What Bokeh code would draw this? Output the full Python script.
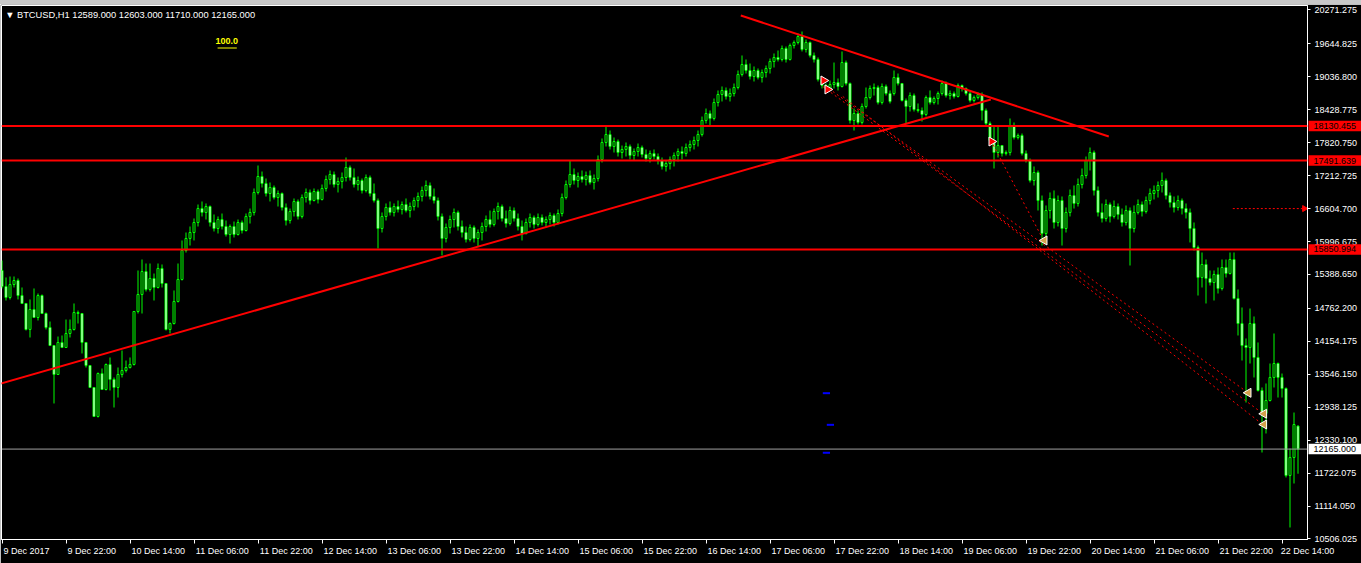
import math
from bokeh.plotting import figure
from bokeh.models import (Range1d, FixedTicker, PrintfTickFormatter, Span, Label, ColumnDataSource, Div,
                          GridBox)
from bokeh.core.properties import value
from bokeh.embed import file_html
from bokeh.resources import INLINE

# ---------------- data (BTCUSD, H1, bar index 0 = 9 Dec 2017 06:00) ----------------
op = [15462,15166,14963,15203,15277,15000,14853,14373,14742,14594,15000,14668,14410,14077,13542,14133,14040,14299,14373,14686,
      14668,14133,13708,13302,12767,13560,13265,13727,13450,13302,13542,13616,13671,13727,14705,15019,15443,15111,15314,15148,
      15499,15222,14373,14483,14890,15296,
      15831,16053,16163,16348,16606,16533,16643,16348,16237,16403,16274,16126,16274,16126,16348,16200,16459,16533,16902,17197,
      17068,16883,16994,16809,16883,16625,16385,16551,16736,16459,16809,16902,16754,16920,16773,16976,17142,17234,17049,17105,
      17179,17363,17179,17049,17123,16939,17179,16883,16754,16237,16459,16625,16533,16643,16588,16680,16569,16643,16754,16828,
      16939,17031,16828,16754,16459,16053,16256,16403,16533,16274,16163,16034,16256,16053,16163,16274,16403,16311,16551,16643,
      16422,16329,16569,16422,16274,16145,16348,16440,16311,16440,16348,16403,16477,16348,16514,16809,17049,17234,17123,17197,
      17142,17215,17086,17160,17511,17825,17972,17751,17843,17640,17696,17751,17585,17658,17732,17603,17529,17622,17566,17492,
      17382,17437,17511,17585,17658,17622,17732,17788,17862,17972,18231,18360,18268,18563,18711,18785,18674,18729,18840,19080,
      19264,19154,19043,19154,19025,19117,19191,19320,19394,
      19357,19560,19357,19615,19671,19781,19542,19671,19431,19357,18988,18877,18822,18895,18932,18859,19301,18914,18231,18360,
      18194,18489,18655,18822,18840,18563,18859,18729,18729,19025,18914,18600,18489,18692,18434,18415,18342,18655,18563,18637,
      18729,18914,18692,18729,18674,18877,18822,18729,18600,18655,18711,18415,18175,17862,17640,17769,17622,17640,18138,17917,
      17954,17622,17492,
      17123,17271,16754,16145,16569,16791,16348,16754,16237,16533,16846,16699,17049,17215,17492,17640,16939,16533,16422,16680,
      16459,16643,16496,16348,16569,16237,16533,16680,16551,16754,16883,16939,17031,17123,16846,16717,16625,16754,16606,16533,
      16237,15886,15333,15573,15314,15240,15388,15130,15517,15406,15665,14945,14483,14077,14040,14483,13856,13247,12822,13062,
      13487,13745,13487,13284,11677,12010,12589]
hi = [15646,15333,15351,15351,15314,15148,14853,14927,15130,15037,15019,14686,14520,14077,14243,14262,14557,14557,14853,14723,
      14668,14133,13708,13302,13579,13653,13745,13856,13487,13671,13985,13800,13856,14705,15462,15665,15591,15591,15406,15591,
      15573,15222,14502,15093,15591,16016,
      16163,16274,16422,16680,16736,16699,16662,16496,16459,16514,16385,16311,16366,16403,16385,16514,16606,16976,17400,17289,
      17160,17086,17031,16939,16902,16699,16606,16791,16773,16865,16976,16957,16976,16957,17049,17215,17308,17289,17179,17271,
      17548,17400,17345,17197,17160,17234,17215,17068,16791,16533,16699,16736,16699,16754,16736,16791,16717,16809,16902,17012,
      17123,17086,16976,16809,16514,16329,16477,16606,16569,16385,16274,16311,16293,16219,16348,16477,16569,16606,16717,16680,
      16569,16643,16625,16514,16385,16422,16514,16477,16514,16496,16459,16533,16514,16588,16883,17123,17492,17345,17271,17308,
      17289,17308,17234,17585,17899,18120,18046,17917,17880,17769,17825,17788,17714,17806,17769,17696,17677,17696,17622,17548,
      17492,17566,17640,17714,17751,17806,17862,17935,18046,18304,18452,18415,18637,18785,18859,18840,18822,18914,19154,19431,
      19357,19283,19228,19191,19172,19246,19375,19468,19523,
      19615,19597,19652,19708,19837,19874,19726,19689,19486,19394,19043,18914,18969,19301,19006,19505,19338,18932,18452,18415,
      18545,18840,18877,18914,18877,18914,18895,18785,19154,19098,18914,18637,18748,18729,18545,18471,18692,18785,18674,18766,
      18969,18951,18785,18766,18914,18895,18840,18766,18692,18748,18748,18452,18212,18138,18138,17769,17677,18268,18194,17991,
      17991,17677,17529,
      17382,17308,16846,16662,16902,16939,16846,16828,16625,16957,17031,17160,17345,17566,17732,17677,17013,16699,16773,16717,
      16754,16699,16606,16662,16625,16662,16773,16736,16828,16976,17031,17105,17271,17160,16902,16828,16846,16791,16699,16606,
      16348,15923,15794,15665,15462,15462,15517,15665,15665,15794,15794,15111,14779,14207,14760,14613,14133,13302,13376,13745,
      14299,13763,13560,13302,12176,12840,12603]
lo = [15130,14908,14927,15148,14927,14853,14354,14225,14594,14539,14668,14373,14077,13007,13542,14040,14040,14225,14354,14483,
      13930,13671,13302,12767,12748,13265,13247,13247,12933,13117,13487,13579,13653,13708,14668,14668,15074,15074,14908,15130,
      15148,14354,14299,14465,14871,15277,
      15794,15923,16016,16274,16459,16403,16274,16182,16145,16219,16089,15960,16071,16108,16145,16182,16329,16477,16865,16994,
      16828,16736,16773,16643,16569,16293,16329,16459,16403,16422,16717,16680,16736,16699,16754,16920,17049,16994,16902,16976,
      17105,17123,16994,16939,16883,16902,16828,16717,15868,16163,16385,16477,16459,16533,16496,16533,16440,16569,16625,16736,
      16828,16773,16699,16385,15739,15979,16145,16256,16200,16071,15979,15997,15979,15905,16016,16182,16256,16274,16403,16366,
      16256,16293,16366,16200,16016,16126,16256,16237,16274,16293,16256,16311,16274,16311,16459,16773,16994,17049,16994,17086,
      17031,17049,16957,17105,17455,17751,17696,17640,17566,17529,17566,17511,17492,17566,17548,17474,17455,17511,17419,17326,
      17289,17326,17382,17474,17511,17566,17658,17696,17751,17935,18175,18120,18231,18489,18582,18618,18582,18674,18804,19043,
      19098,18988,18951,18988,18932,19025,19098,19209,19320,
      19320,19301,19338,19560,19634,19505,19486,19394,19301,18951,18822,18785,18785,18822,18785,18840,18877,18175,18046,18157,
      18157,18452,18618,18692,18526,18526,18692,18545,18692,18877,18582,18175,18397,18397,18378,18212,18305,18526,18526,18526,
      18692,18655,18618,18637,18655,18766,18692,18563,18563,18618,18231,18138,17825,17345,17548,17566,17585,17585,17880,17880,
      17585,17455,17086,
      17031,16569,15923,16053,16422,16237,16274,15923,16163,16459,16606,16643,16976,17160,17308,16846,16459,16348,16366,16348,
      16422,16403,16274,16293,15554,16163,16496,16459,16514,16680,16773,16809,16902,16773,16625,16533,16569,16496,16422,15979,
      15831,15000,15148,14853,15185,14908,15037,15093,15333,15388,14927,14262,13800,13025,13745,13487,13228,12102,12453,13044,
      13302,13117,13117,11641,10718,11530,11710]
cl = [15166,14963,15203,15277,15000,14853,14373,14742,14594,15000,14668,14410,14077,13542,14133,14040,14299,14373,14686,14668,
      14133,13708,13302,12767,13560,13265,13727,13450,13302,13542,13616,13671,13727,14705,15019,15443,15111,15314,15148,15499,
      15222,14373,14483,14890,15296,15831,
      16053,16163,16348,16606,16533,16643,16348,16237,16403,16274,16126,16274,16126,16348,16200,16459,16533,16902,17197,17068,
      16883,16994,16809,16883,16625,16385,16551,16736,16459,16809,16902,16754,16920,16773,16976,17142,17234,17049,17105,17179,
      17363,17179,17049,17123,16939,17179,16883,16754,16237,16459,16625,16533,16643,16588,16680,16569,16643,16754,16828,16939,
      17031,16828,16754,16459,16053,16256,16403,16533,16274,16163,16034,16256,16053,16163,16274,16403,16311,16551,16643,16422,
      16329,16569,16422,16274,16145,16348,16440,16311,16440,16348,16403,16477,16348,16514,16809,17049,17234,17123,17197,17142,
      17215,17086,17160,17511,17825,17972,17751,17843,17640,17696,17751,17585,17658,17732,17603,17529,17622,17566,17492,17382,
      17437,17511,17585,17658,17622,17732,17788,17862,17972,18231,18360,18268,18563,18711,18785,18674,18729,18840,19080,19264,
      19154,19043,19154,19025,19117,19191,19320,19394,19357,
      19560,19357,19615,19671,19781,19542,19671,19431,19357,18988,18877,18822,18895,18932,18859,19301,18914,18231,18360,18194,
      18489,18655,18822,18840,18563,18859,18729,18582,19025,18914,18600,18489,18692,18434,18415,18342,18655,18563,18637,18729,
      18914,18692,18729,18674,18877,18822,18729,18600,18655,18711,18415,18175,17862,17640,17769,17622,17640,18138,17917,17954,
      17622,17492,17123,
      17271,16754,16145,16569,16791,16348,16754,16237,16533,16846,16699,17049,17215,17492,17640,16939,16533,16422,16680,16459,
      16643,16496,16348,16569,16237,16533,16680,16551,16754,16883,16939,17031,17123,16846,16717,16625,16754,16606,16533,16237,
      15886,15333,15573,15314,15240,15388,15130,15517,15406,15665,14945,14483,14077,14040,14483,13856,13247,12822,13062,13487,
      13745,13487,13284,11677,12010,12619,12165]

# time-axis labels every 16 bars
xtick_pos = [0, 16, 32, 48, 64, 80, 96, 112, 128, 144, 160, 176, 192, 208, 224, 240, 256, 272, 288, 304, 320]
xtick_lab = ["9 Dec 2017", "9 Dec 22:00", "10 Dec 14:00", "11 Dec 06:00", "11 Dec 22:00", "12 Dec 14:00",
             "13 Dec 06:00", "13 Dec 22:00", "14 Dec 14:00", "15 Dec 06:00", "15 Dec 22:00", "16 Dec 14:00",
             "17 Dec 06:00", "17 Dec 22:00", "18 Dec 14:00", "19 Dec 06:00", "19 Dec 22:00", "20 Dec 14:00",
             "21 Dec 06:00", "21 Dec 22:00", "22 Dec 14:00"]
ytick_vals = [10506.025, 11114.05, 11722.075, 12330.1, 12938.125, 13546.15, 14154.175, 14762.2, 15388.65,
              15996.675, 16604.7, 17212.725, 17820.75, 18428.775, 19036.8, 19644.825, 20271.275]

# horizontal levels and bid
h_levels = [18130.455, 17491.639, 15850.994]
bid = 12165.0
pending = 16604.7
header = "\u25bc BTCUSD,H1  12589.000 12603.000 11710.000 12165.000"

# price tags shown on the price scale
tag_vals = [18130.455, 17491.639, 15850.994, 12165.0]
tag_fill = ["#ff0000", "#ff0000", "#ff0000", "#ffffff"]
tag_text = ["18130.455", "17491.639", "15850.994", "12165.000"]

# trend lines (bar index, price)
asc_x = [-0.3, 247.2]
asc_y = [13376, 18618]
desc_x = [184.7, 276.7]
desc_y = [20169, 17936]
dot_x0 = [206.7, 205.2, 210.2, 247.2]
dot_y0 = [18822, 18859, 18674, 17862]
dot_x1 = [311.4, 315.2, 315.2, 260.4]
dot_y1 = [13210, 12822, 12619, 16016]
pend_x = [307.7, 326.4]

arrow_x = [205.4, 206.4, 247.4]
arrow_y = [18969, 18804, 17843]
tri_x = [260.6, 311.6, 315.5, 315.5]
tri_y = [16016, 13204, 12817, 12619]
blue_x0 = [205.2, 206.2, 205.2]
blue_x1 = [207.0, 208.0, 207.0]
blue_y = [13197, 12613, 12097]

# ---------------- scale calibration (bar index / price <-> pixels) ----------------
PX_PER_BAR = 4.0
PRICE_PER_PX = 18.46
PRICE_AT_PAGE_TOP = 20446.0     # price at page y = 0
STRIP = 4                       # grey window strip above the chart
W, H = 1361, 563 - STRIP


def price_at(page_y):
    return PRICE_AT_PAGE_TOP - PRICE_PER_PX * page_y


def bar_at(page_x):
    return (page_x - 1) / PX_PER_BAR - 0.125


X0, X1 = bar_at(1), bar_at(1307)
Y0, Y1 = price_at(539), price_at(5)

p = figure(width=W, height=H, x_range=Range1d(X0, X1), y_range=Range1d(Y0, Y1),
           output_backend="svg", toolbar_location=None, title=None, y_axis_location="right",
           min_border_left=1, min_border_right=W - 1307, min_border_top=1, min_border_bottom=H - (539 - STRIP),
           background_fill_color="black", border_fill_color="black", outline_line_color="white")
p.xgrid.visible = False
p.ygrid.visible = False

FONT = "Liberation Sans"
FS = 9.0  # px


def text_width(s):
    w = {" ": .278, ":": .278, ".": .278, ",": .278, "D": .722, "e": .556, "c": .5}
    return sum(w.get(ch, .556) for ch in s) * FS


# x axis: labels sit to the right of each tick mark (tick marks drawn as minor ticks)
lab_centers = [min(pos + (1.5 + text_width(lab) / 2) / PX_PER_BAR, X1 - 0.01) for pos, lab in zip(xtick_pos, xtick_lab)]
p.xaxis.ticker = FixedTicker(ticks=lab_centers, minor_ticks=xtick_pos)
p.xaxis.major_label_overrides = {c: lab for c, lab in zip(lab_centers, xtick_lab)}
p.xaxis.axis_line_color = "white"
p.xaxis.major_tick_line_color = None
p.xaxis.major_tick_out = 4
p.xaxis.major_tick_in = 0
p.xaxis.minor_tick_line_color = "white"
p.xaxis.minor_tick_out = 4
p.xaxis.minor_tick_in = 0
p.xaxis.major_label_standoff = 2
p.xaxis.major_label_text_color = "white"
p.xaxis.major_label_text_font = FONT
p.xaxis.major_label_text_font_size = "9px"

# y axis
p.yaxis.ticker = FixedTicker(ticks=ytick_vals)
p.yaxis.formatter = PrintfTickFormatter(format="%.3f")
p.yaxis.axis_line_color = "white"
p.yaxis.major_tick_line_color = "white"
p.yaxis.major_tick_out = 3
p.yaxis.major_tick_in = 0
p.yaxis.minor_tick_line_color = None
p.yaxis.major_label_text_color = "white"
p.yaxis.major_label_text_font = FONT
p.yaxis.major_label_text_font_size = "9px"
p.yaxis.major_label_standoff = 4

# candles
idx = list(range(len(cl)))
src = ColumnDataSource(dict(
    x=idx, h=hi, l=lo,
    top=[max(o, c) for o, c in zip(op, cl)],
    bottom=[min(o, c) for o, c in zip(op, cl)],
    fill=["black" if c >= o else "white" for o, c in zip(op, cl)],
))
p.segment(x0="x", y0="h", x1="x", y1="l", source=src, line_color="#00ff00", line_width=1)
p.vbar(x="x", width=0.5, top="top", bottom="bottom", source=src, fill_color="fill",
       line_color="#00ff00", line_width=1)

# levels
for lv in h_levels:
    p.add_layout(Span(location=lv, dimension="width", line_color="#ff0000", line_width=2))
p.add_layout(Span(location=bid, dimension="width", line_color="#a0a0a0", line_width=1))

# trend lines
p.line(asc_x, asc_y, line_color="#ff0000", line_width=2)
p.line(desc_x, desc_y, line_color="#ff0000", line_width=2)
p.segment(x0=dot_x0, y0=dot_y0, x1=dot_x1, y1=dot_y1, line_color="#ff0000", line_width=1, line_dash="2 3")
p.line(pend_x, [pending, pending], line_color="#ff0000", line_width=1, line_dash="2 2")
p.scatter([325.6], [pending], marker="triangle", angle=-math.pi / 2, size=6, fill_color="#ff0000", line_color="#ff0000")

# markers
p.segment(x0=blue_x0, y0=blue_y, x1=blue_x1, y1=blue_y, line_color="#0000ff", line_width=2)
p.scatter(arrow_x, arrow_y, marker="triangle", angle=-math.pi / 2, size=9, fill_color="#ff0000",
          line_color="white", line_width=1)
p.scatter(tri_x, tri_y, marker="triangle", angle=math.pi / 2, size=9, fill_color="#d4a04c",
          line_color="white", line_width=1)

# yellow marker text
p.add_layout(Label(x=53.4, y=19745, text="100.0", text_align="left", text_baseline="top",
                   text_color="#ffff00", text_font=FONT, text_font_size="9px", text_font_style="bold"))
p.segment(x0=[53.9], y0=[19569], x1=[58.7], y1=[19569], line_color="#ffff00", line_width=1)

# header
p.add_layout(Label(x=0.8, y=20178, text=header, text_align="left", text_baseline="middle",
                   text_color="white", text_font=FONT, text_font_size="9.3px"))

# ---------------- transparent overlay for the price tags on the price scale ----------------
q = figure(width=W, height=H, x_range=Range1d(bar_at(0), bar_at(W)), y_range=Range1d(price_at(563), price_at(STRIP)),
           output_backend="svg", toolbar_location=None, title=None, x_axis_type=None, y_axis_type=None,
           min_border=0, min_border_left=0, min_border_right=0, min_border_top=0, min_border_bottom=0,
           background_fill_alpha=0, border_fill_alpha=0, outline_line_color=None)
q.frame_width = W
q.frame_height = H
if "frame_align" in q.properties():
    q.frame_align = False
q.xgrid.visible = False
q.ygrid.visible = False
tag_h = 10.5 * PRICE_PER_PX
tsrc = ColumnDataSource(dict(y=tag_vals, fill=tag_fill, txt=tag_text,
                             top=[v + tag_h / 2 for v in tag_vals], bottom=[v - tag_h / 2 for v in tag_vals]))
q.quad(left=bar_at(1308), right=bar_at(W + 2), top="top", bottom="bottom", fill_color="fill", line_color=None,
       source=tsrc)
q.text(x=bar_at(1313), y="y", text="txt", source=tsrc, text_color="black", text_font=value(FONT),
       text_font_size="9px", text_baseline="middle", text_align="left")

strip = Div(width=W, height=STRIP, margin=0, styles={"background-color": "#c8c8c8"})
layout = GridBox(children=[(strip, 0, 0), (p, 1, 0), (q, 1, 0)], spacing=0)
open("out.html", "w").write(file_html(layout, INLINE))
